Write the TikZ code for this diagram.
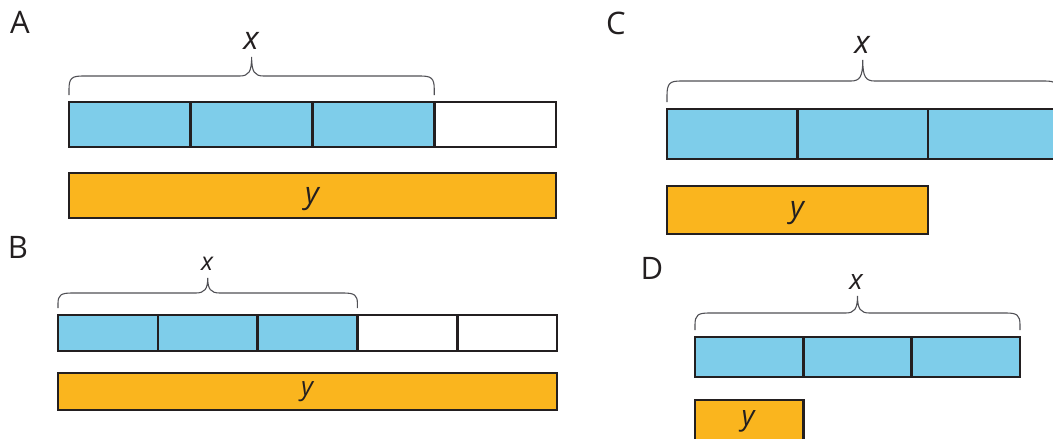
\documentclass[tikz,border=0pt]{standalone}
\usepackage{fontspec}
\setmainfont{Open Sans}
\usepackage{tikz}
\definecolor{cTape}{RGB}{126,205,234}
\definecolor{cWhole}{RGB}{250,181,30}
\definecolor{cEdge}{RGB}{35,31,32}
\definecolor{cBrace}{RGB}{80,80,85}
\tikzset{
  part/.style={draw=cEdge,line width=2.6pt,fill=cTape},
  blank/.style={draw=cEdge,line width=2.6pt,fill=white},
  whole/.style={draw=cEdge,line width=2.6pt,fill=cWhole},
  bracket/.style={draw=cBrace,line width=1.1pt},
  panel/.style={text=cEdge,font=\fontsize{31}{33}\selectfont},
  unk/.style={text=cEdge,font=\fontsize{#1}{#1}\selectfont\itshape},
  unk/.default=30
}
% brace over a tape: left, right, foot y, half height
\newcommand{\tapebrace}[4]{%
  \draw[bracket] (#1,#3) -- (#1,#3-0.3*#4)
    .. controls (#1,#3-#4+2) and (#1+3,#3-#4) .. (#1+14,#3-#4)
    -- ({(#1+#2)/2-12},#3-#4)
    .. controls ({(#1+#2)/2-3},#3-#4) and ({(#1+#2)/2},#3-#4-4) .. ({(#1+#2)/2},#3-2*#4)
    .. controls ({(#1+#2)/2},#3-#4-4) and ({(#1+#2)/2+3},#3-#4) .. ({(#1+#2)/2+12},#3-#4)
    -- (#2-14,#3-#4)
    .. controls (#2-3,#3-#4) and (#2,#3-#4+2) .. (#2,#3-0.3*#4) -- (#2,#3);
}

\begin{document}
\begin{tikzpicture}[x=1pt,y=-1pt]
  \useasboundingbox (0,0) rectangle (1053,439);
  \clip (0,0) rectangle (1053,439);

  % A: three of four parts
  \node[panel] (labA) at (20,22) {A};
  \tapebrace{69}{434.25}{95}{19}
  \node[unk=32] (xA) at (251,41) {x};
  \foreach \i in {0,1,2}
    \draw[part] (69+121.75*\i,102) rectangle ++(121.75,45);
  \draw[blank] (434.25,102) rectangle (556,147);
  \draw[whole] (69,173) rectangle (556,218);
  \node[unk] (yA) at (312,199) {y};

  % B: three of five parts
  \node[panel] (labB) at (18,247) {B};
  \tapebrace{58}{357.4}{308}{15}
  \node[unk=25] (xB) at (207,264) {x};
  \foreach \i in {0,1,2}
    \draw[part] (58+99.8*\i,315) rectangle ++(99.8,36);
  \foreach \i in {3,4}
    \draw[blank] (58+99.8*\i,315) rectangle ++(99.8,36);
  \draw[whole] (58,373) rectangle (557,410);
  \node[unk=26] (yB) at (307,392) {y};

  % C: y is two of the three parts
  \node[panel] (labC) at (616,23) {C};
  \tapebrace{667}{1058.5}{102}{21}
  \node[unk=32] (xC) at (862,45) {x};
  \foreach \i in {0,1,2}
    \draw[part] (667+130.5*\i,109) rectangle ++(130.5,50);
  \draw[whole] (667,186) rectangle (928,234);
  \node[unk] (yC) at (797,213) {y};

  % D: y is one of the three parts
  \node[panel] (labD) at (652,268) {D};
  \tapebrace{695}{1020}{330}{17}
  \node[unk=28] (xD) at (856,282) {x};
  \foreach \i in {0,1,2}
    \draw[part] (695+108.33*\i,337) rectangle ++(108.33,40);
  \draw[whole] (695,400) rectangle (803.33,448);
  \node[unk=28] (yD) at (748,421) {y};
\end{tikzpicture}
\end{document}
